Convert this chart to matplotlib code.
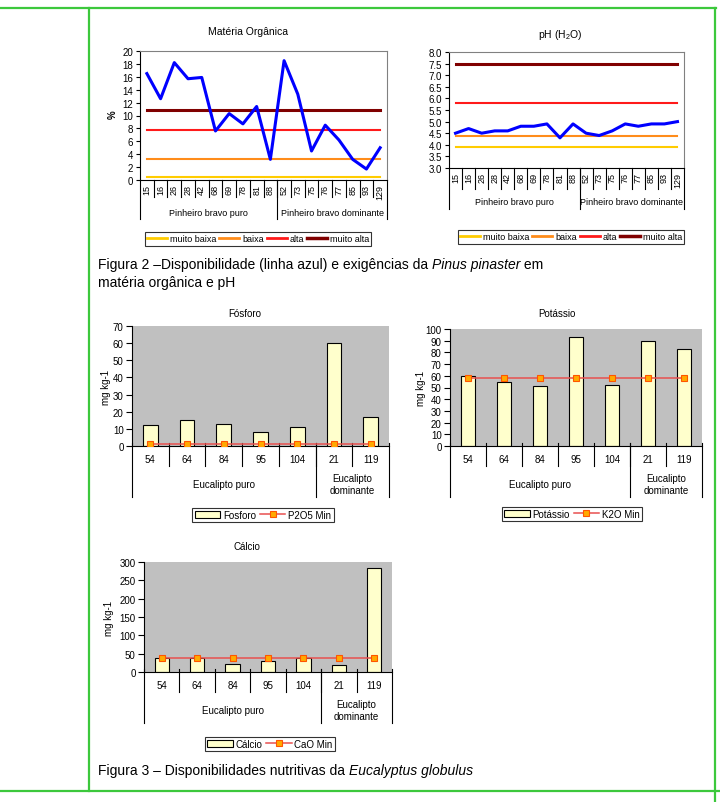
import numpy as np
import matplotlib
matplotlib.use('Agg')
import matplotlib.pyplot as plt
from matplotlib.lines import Line2D
from matplotlib.patches import Patch
from matplotlib.transforms import blended_transform_factory

plt.rcParams['font.family'] = ['Liberation Sans', 'DejaVu Sans']
plt.rcParams['mathtext.fontset'] = 'custom'
plt.rcParams['mathtext.rm'] = 'Liberation Sans'
plt.rcParams['mathtext.it'] = 'Liberation Sans:italic'

# ---- data ----
pine_cats = ['15', '16', '26', '28', '42', '68', '69', '78', '81', '88',
             '52', '73', '75', '76', '77', '85', '93', '129']
pine_groups = [('Pinheiro bravo puro', 0, 9), ('Pinheiro bravo dominante', 10, 17)]

mo_values = [16.5, 12.6, 18.2, 15.7, 15.9, 7.6, 10.3, 8.7, 11.4, 3.2,
             18.5, 13.3, 4.5, 8.5, 6.2, 3.2, 1.7, 5.0]
mo_levels = [0.5, 3.3, 7.7, 10.9]

ph_values = [4.5, 4.7, 4.5, 4.6, 4.6, 4.8, 4.8, 4.9, 4.3, 4.9,
             4.5, 4.4, 4.6, 4.9, 4.8, 4.9, 4.9, 5.0]
ph_levels = [3.9, 4.4, 5.8, 7.5]

level_names = ['muito baixa', 'baixa', 'alta', 'muito alta']
level_colors = ['#FFCC00', '#FF8C1A', '#FF1A1A', '#800000']

euc_cats = ['54', '64', '84', '95', '104', '21', '119']
euc_groups = [('Eucalipto puro', 0, 4), ('Eucalipto\ndominante', 5, 6)]

fosforo = [12, 15, 13, 8, 11, 60, 17]
p2o5_min = 1.4
potassio = [60, 55, 51, 93, 52, 90, 83]
k2o_min = 58.5
calcio = [38, 38, 22, 29, 38, 20, 285]
cao_min = 37

W, H = 720, 803
fig = plt.figure(figsize=(7.2, 8.03), dpi=100)


def fx(x):
    return x / W


def fy(y):
    return 1 - y / H


def px_axes(l, t, r, b):
    ax = fig.add_axes([fx(l), fy(b), (r - l) / W, (b - t) / H])
    ax.h_px = b - t
    return ax


def cat_axis(ax, cats, groups, sep_px, grp_px, lab_px, rot, fs, cross=0):
    n = len(cats)
    ax.set_xlim(-0.5, n - 0.5)
    ax.set_xticks(range(n))
    ax.set_xticklabels(cats, rotation=rot, fontsize=fs)
    ax.tick_params(axis='x', which='major', length=0, pad=3 if rot else 6)
    tr = blended_transform_factory(ax.transData, ax.transAxes)
    h = ax.h_px
    for b in np.arange(0.5, n - 1):
        ax.add_line(Line2D([b, b], [cross / h, -sep_px / h], transform=tr,
                           color='black', lw=0.8, clip_on=False))
    edges = [-0.5] + [g[2] + 0.5 for g in groups]
    for b in edges:
        ax.add_line(Line2D([b, b], [cross / h, -grp_px / h], transform=tr,
                           color='black', lw=0.8, clip_on=False))
    for name, s, e in groups:
        ax.text((s + e) / 2, -lab_px / h, name, transform=tr, ha='center',
                va='center', fontsize=fs, linespacing=1.3)


# ---- Matéria Orgânica ----
ax1 = px_axes(140, 52, 387, 181)
x = np.arange(len(pine_cats))
for v, c, lw in zip(mo_levels, level_colors, [1.5, 1.5, 1.5, 2.2]):
    ax1.plot(x, np.full(len(x), v), color=c, lw=lw)
ax1.plot(x, mo_values, color='#0000FF', lw=2.2)
ax1.set_ylim(0, 20)
ax1.set_yticks(np.arange(0, 21, 2))
ax1.tick_params(axis='y', labelsize=7, length=3, width=0.8, pad=2)
for s in ['top', 'right']:
    ax1.spines[s].set_color('#808080')
cat_axis(ax1, pine_cats, pine_groups, 17, 39, 32, 90, 6.5)
fig.text(fx(248), fy(32), 'Matéria Orgânica', ha='center', va='center', fontsize=7.5)
fig.text(fx(113), fy(115), '%', ha='center', va='center', rotation=90,
         fontsize=7, fontweight='bold')

# ---- pH ----
ax2 = px_axes(449, 53, 684, 169)
for v, c, lw in zip(ph_levels, level_colors, [1.5, 1.5, 1.5, 2.2]):
    ax2.plot(x, np.full(len(x), v), color=c, lw=lw)
ax2.plot(x, ph_values, color='#0000FF', lw=2.2)
ax2.set_ylim(3, 8)
ax2.set_yticks(np.arange(3, 8.01, 0.5))
ax2.set_yticklabels(['%.1f' % t for t in np.arange(3, 8.01, 0.5)])
ax2.tick_params(axis='y', labelsize=7, length=3, width=0.8, pad=2)
for s in ['top', 'right']:
    ax2.spines[s].set_color('#808080')
cat_axis(ax2, pine_cats, pine_groups, 21, 41, 34, 90, 6.5)
fig.text(fx(560), fy(35), 'pH (H$_2$O)', ha='center', va='center', fontsize=7.5)

for cx, cy in [(258, 240), (571, 238)]:
    handles = [Line2D([], [], color=c, lw=2 if i < 3 else 2.5)
               for i, c in enumerate(level_colors)]
    fig.legend(handles, level_names, loc='center', bbox_to_anchor=(fx(cx), fy(cy)),
               ncol=4, fontsize=6.5, frameon=True, fancybox=False, edgecolor='black',
               handlelength=2.2, columnspacing=0.35, handletextpad=0.3, borderpad=0.25,
               borderaxespad=0).get_frame().set_linewidth(0.8)


# ---- bar charts ----
def bar_chart(rect, vals, minv, ymax, ystep, title, tpos, name, minname, lpos, ylab_x):
    ax = px_axes(*rect)
    ax.set_facecolor('#C0C0C0')
    xx = np.arange(len(vals))
    ax.bar(xx, vals, width=0.4, color='#FFFFCC', edgecolor='black', lw=0.8, zorder=2)
    ax.plot(xx, np.full(len(xx), minv), color='#E8504F', lw=1.1, marker='s', ms=4.5,
            mfc='#FFAA00', mec='#FF5500', mew=0.8, zorder=3)
    ax.set_ylim(0, ymax)
    ax.set_yticks(np.arange(0, ymax + 0.1, ystep))
    ax.tick_params(axis='y', labelsize=7, length=4, width=0.8, pad=2)
    ax.spines['top'].set_visible(False)
    ax.spines['right'].set_visible(False)
    cat_axis(ax, euc_cats, euc_groups, 20, 51, 38, 0, 7, cross=3)
    fig.text(fx(tpos[0]), fy(tpos[1]), title, ha='center', va='center', fontsize=7)
    fig.text(fx(ylab_x), fy((rect[1] + rect[3]) / 2), 'mg kg-1', ha='center',
             va='center', rotation=90, fontsize=7)
    handles = [Patch(facecolor='#FFFFCC', edgecolor='black', lw=0.8),
               Line2D([], [], color='#E8504F', lw=1.1, marker='s', ms=4.5,
                      mfc='#FFAA00', mec='#FF5500', mew=0.8)]
    leg = fig.legend(handles, [name, minname], loc='center',
                     bbox_to_anchor=(fx(lpos[0]), fy(lpos[1])), ncol=2, fontsize=7,
                     frameon=True, fancybox=False, edgecolor='black', handlelength=2.6,
                     handleheight=0.8, columnspacing=0.4, handletextpad=0.3,
                     borderpad=0.25, borderaxespad=0)
    leg.get_frame().set_linewidth(0.8)
    return ax


bar_chart((132, 327, 389, 447), fosforo, p2o5_min, 70, 10, 'Fósforo', (245, 314),
          'Fosforo', 'P2O5 Min', (263, 516), 106)
bar_chart((450, 330, 702, 447), potassio, k2o_min, 100, 10, 'Potássio', (557, 314),
          'Potássio', 'K2O Min', (572, 515), 421)
bar_chart((144, 563, 392, 673), calcio, cao_min, 300, 50, 'Cálcio', (247, 547),
          'Cálcio', 'CaO Min', (270, 745), 109)

# ---- captions ----
fig.canvas.draw()
rend = fig.canvas.get_renderer()


def caption(x0, y0, parts, fs=10):
    xp = x0
    for txt, style in parts:
        t = fig.text(fx(xp), fy(y0), txt, ha='left', va='center', fontsize=fs, style=style)
        bb = t.get_window_extent(rend)
        xp += bb.width


caption(98, 265, [('Figura 2 –Disponibilidade (linha azul) e exigências da ', 'normal'),
                  ('Pinus pinaster', 'italic'), (' em', 'normal')])
caption(98, 283, [('matéria orgânica e pH', 'normal')])
caption(98, 771, [('Figura 3 – Disponibilidades nutritivas da ', 'normal'),
                  ('Eucalyptus globulus', 'italic')])

# ---- green frame ----
green = '#3CC83C'
for xs, ys in [([0, 716], [9, 9]), ([0, 720], [792, 792]),
               ([714.5, 714.5], [9, 803]), ([89, 89], [9, 792])]:
    fig.add_artist(Line2D([fx(v) for v in xs], [fy(v) for v in ys], color=green, lw=1.6))

fig.savefig('out.png', dpi=100)
